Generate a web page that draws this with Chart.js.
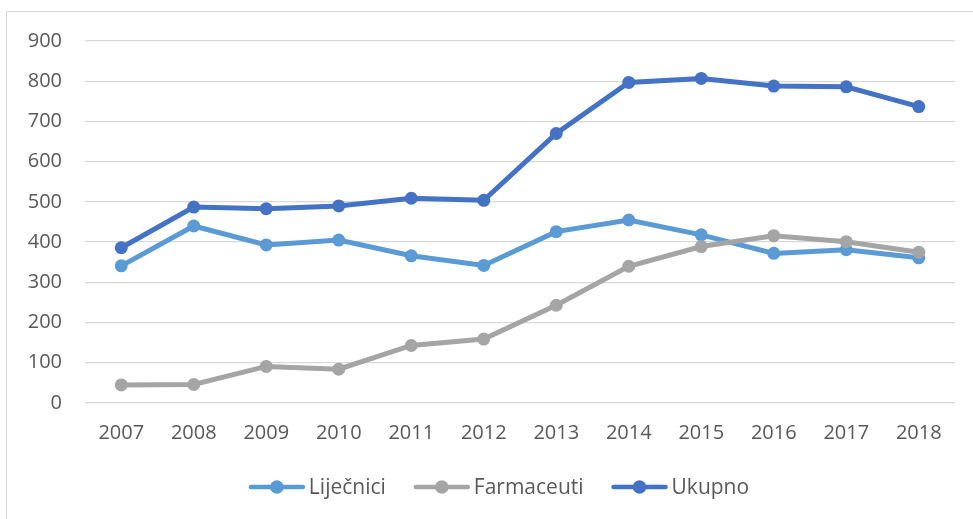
<!DOCTYPE html>
<html>
<head>
<meta charset="utf-8">
<script src="https://cdn.jsdelivr.net/npm/chart.js@4"></script>
<style>
  html, body { margin: 0; padding: 0; background: #fff; }
  #wrap { position: relative; width: 973px; height: 519px; }
  #frame { position: absolute; left: 6px; top: 11px; width: 980px; height: 520px; border: 1.5px solid #d9d9d9; box-sizing: border-box; pointer-events: none; }
  canvas { position: absolute; left: 0; top: 0; }
</style>
</head>
<body>
<div id="wrap">
  <canvas id="c" width="973" height="519"></canvas>
  <div id="frame"></div>
</div>
<script>
const categories = ["2007","2008","2009","2010","2011","2012","2013","2014","2015","2016","2017","2018"];
const lijecnici = [341, 440, 393, 405, 366, 342, 426, 455, 418, 372, 381, 361];
const farmaceuti = [45, 46, 91, 84, 143, 159, 243, 340, 389, 416, 401, 375];
const ukupno = [386, 487, 483, 490, 509, 504, 670, 797, 807, 788, 786, 737];
const yTicks = [0, 100, 200, 300, 400, 500, 600, 700, 800, 900];

const FONT = "'Open Sans', 'Liberation Sans', sans-serif";
const TEXT = '#595959';

function ds(label, data, color, order) {
  return {
    label, data, order,
    borderColor: color, backgroundColor: color,
    pointBackgroundColor: color, pointBorderColor: color,
    borderWidth: 5, pointRadius: 6.5, pointHoverRadius: 6.5, pointBorderWidth: 0,
    tension: 0, fill: false,
    pointStyle: 'circle'
  };
}

// Legend drawn as Excel-style line+marker swatches with real canvas text
const customLegend = {
  id: 'customLegend',
  afterDraw(chart) {
    const ctx = chart.ctx;
    const sets = chart.data.datasets;
    const markerW = 56, gapText = 4, gapItem = 28, cy = 487, centerX = 499;
    ctx.save();
    ctx.font = "21px " + FONT;
    const widths = sets.map(d => ctx.measureText(d.label).width);
    let total = 0;
    widths.forEach((w, i) => { total += markerW + gapText + w + (i < widths.length - 1 ? gapItem : 0); });
    let x = centerX - total / 2;
    sets.forEach((d, i) => {
      const c = d.borderColor;
      ctx.strokeStyle = c; ctx.lineWidth = 4.5; ctx.lineCap = 'round';
      ctx.beginPath(); ctx.moveTo(x + 2, cy); ctx.lineTo(x + markerW - 2, cy); ctx.stroke();
      ctx.fillStyle = c;
      ctx.beginPath(); ctx.arc(x + markerW / 2, cy, 6.8, 0, Math.PI * 2); ctx.fill();
      ctx.fillStyle = TEXT; ctx.textBaseline = 'middle'; ctx.textAlign = 'left';
      ctx.fillText(d.label, x + markerW + gapText, cy + 1);
      x += markerW + gapText + widths[i] + gapItem;
    });
    ctx.restore();
  }
};

const chart = new Chart(document.getElementById('c'), {
  type: 'line',
  data: {
    labels: categories,
    datasets: [
      ds('Liječnici', lijecnici, '#5B9BD5', 3),
      ds('Farmaceuti', farmaceuti, '#A5A5A5', 2),
      ds('Ukupno', ukupno, '#4472C4', 1)
    ]
  },
  plugins: [customLegend],
  options: {
    responsive: false,
    animation: false,
    layout: { padding: { top: 41, right: 18, bottom: 51, left: 0 } },
    plugins: {
      tooltip: { enabled: false },
      legend: { display: false }
    },
    scales: {
      x: {
        offset: true,
        grid: { display: false, drawTicks: false },
        border: { display: false },
        ticks: { color: TEXT, font: { family: FONT, size: 20 }, padding: 18, maxRotation: 0 },
        afterFit: (s) => { s.height = 65; }
      },
      y: {
        min: 0, max: 900,
        afterBuildTicks: (s) => { s.ticks = yTicks.map(v => ({ value: v })); },
        grid: { color: '#d9d9d9', lineWidth: 1.3, drawTicks: false },
        border: { display: false },
        ticks: { color: TEXT, font: { family: FONT, size: 20 }, padding: 23 },
        afterFit: (s) => { s.width = 85; }
      }
    }
  }
});
</script>
</body>
</html>
